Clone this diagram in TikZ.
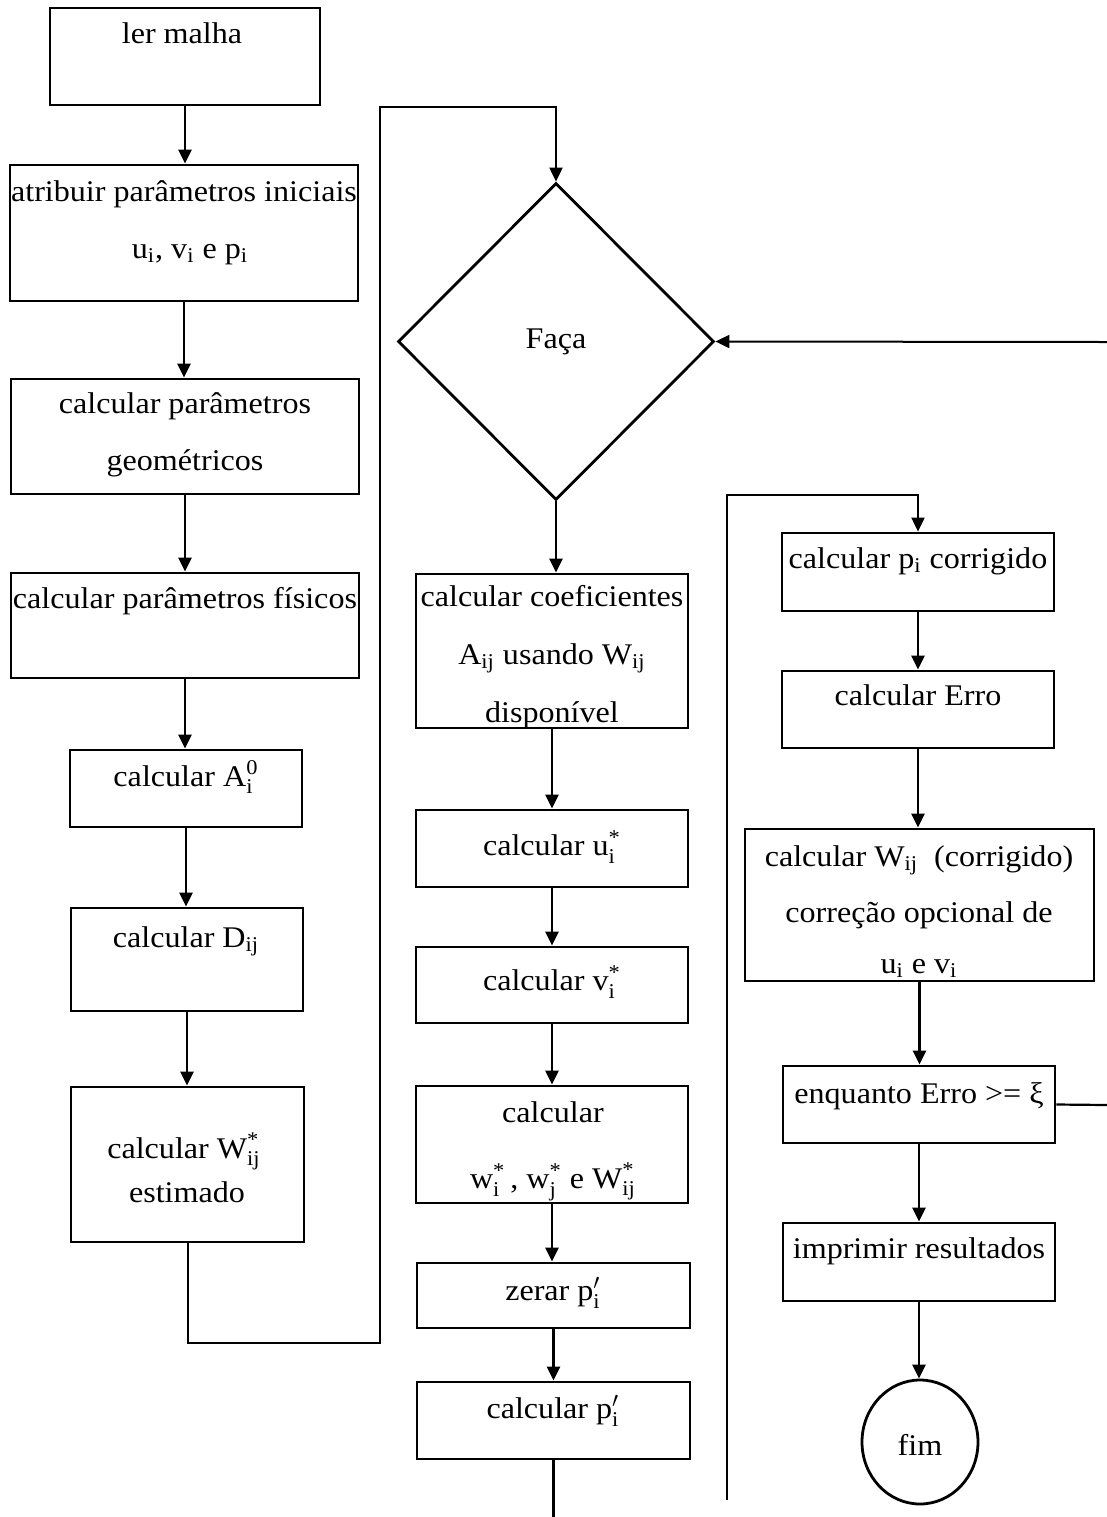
\documentclass[tikz,border=0pt]{standalone}
\usepackage{fontspec}
\usepackage{amsmath}
\setmainfont{Liberation Serif}[FakeStretch=1.07]
\usetikzlibrary{arrows.meta,shapes.geometric}
\newcommand\stk[3]{$\text{#1}^{\text{#2}}_{\text{#3}}$}
\newcommand\sbx[1]{\textsubscript{#1}}
\begin{document}
\begin{tikzpicture}[x=0.5pt,y=-0.5pt,
  box/.style={draw, line width=1.4pt, inner sep=0pt},
  lbl/.style={anchor=base, inner sep=0pt, font=\fontsize{15pt}{18pt}\selectfont},
  conn/.style={line width=1.2pt, -{Triangle[length=7pt,width=6.5pt]}},
  plain/.style={line width=1.1pt},
  loopline/.style={line width=1pt}]
\useasboundingbox (0,0) rectangle (1107,1517);
\fill[white] (0,0) rectangle (1107,1517);
% left column
\node[box, minimum width=135pt, minimum height=48.5pt] (b1) at (185,56.5) {};
\node[box, minimum width=174pt, minimum height=68pt] (b2) at (184,233) {};
\node[box, minimum width=174pt, minimum height=57.5pt] (b3) at (185,436.5) {};
\node[box, minimum width=174pt, minimum height=52.5pt] (b4) at (185,625.5) {};
\node[box, minimum width=116pt, minimum height=38.5pt] (b5) at (186,788.5) {};
\node[box, minimum width=116pt, minimum height=51.5pt] (b6) at (187,959.5) {};
\node[box, minimum width=116.5pt, minimum height=77.5pt] (b7) at (187.5,1164.5) {};
% middle column
\node[draw, shape=diamond, line width=1.4pt, inner sep=0pt, minimum width=158pt, minimum height=158.5pt] (dia) at (556,341.5) {};
\node[box, minimum width=136pt, minimum height=77pt] (m1) at (552,651) {};
\node[box, minimum width=136pt, minimum height=38.5pt] (m2) at (552,848.5) {};
\node[box, minimum width=136pt, minimum height=38pt] (m3) at (552,985) {};
\node[box, minimum width=136pt, minimum height=58.5pt] (m4) at (552,1144.5) {};
\node[box, minimum width=136.5pt, minimum height=32.5pt] (m5) at (553.5,1295.5) {};
\node[box, minimum width=136.5pt, minimum height=38.5pt] (m6) at (553.5,1420.5) {};
% right column
\node[box, minimum width=136pt, minimum height=39pt] (r1) at (918,572) {};
\node[box, minimum width=136pt, minimum height=38.5pt] (r2) at (918,709.5) {};
\node[box, minimum width=174.5pt, minimum height=76pt] (r3) at (919.5,905) {};
\node[box, minimum width=136pt, minimum height=38.5pt] (r4) at (919,1104.5) {};
\node[box, minimum width=136pt, minimum height=39pt] (r5) at (919,1262) {};
\node[draw, ellipse, line width=1.4pt, inner sep=0pt, minimum width=58pt, minimum height=62pt] (fim) at (920,1442) {};
% texts
\node[lbl] (t1) at (182,43) {ler malha};
\node[lbl] (t2a) at (184,201) {atribuir parâmetros iniciais};
\node[lbl] (t2b) at (190,258) {u\sbx{i}, v\sbx{i} e p\sbx{i}};
\node[lbl] (t3a) at (185,413) {calcular parâmetros};
\node[lbl] (t3b) at (185,470) {geométricos};
\node[lbl] (t4) at (185,608) {calcular parâmetros físicos};
\node[lbl] (t5) at (186,786) {calcular \stk{A}{0}{i}};
\node[lbl] (t6) at (186,947) {calcular D\sbx{ij}};
\node[lbl] (t7a) at (184,1158) {calcular \stk{W}{*}{ij}};
\node[lbl] (t7b) at (187,1202) {estimado};
\node[lbl] (tf) at (556,348) {Faça};
\node[lbl] (u1a) at (552,606) {calcular coeficientes};
\node[lbl] (u1b) at (552,664) {A\sbx{ij} usando W\sbx{ij}};
\node[lbl] (u1c) at (552,722) {disponível};
\node[lbl] (u2) at (552,855) {calcular \stk{u}{*}{i}};
\node[lbl] (u3) at (552,990) {calcular \stk{v}{*}{i}};
\node[lbl] (u4a) at (553,1122) {calcular};
\node[lbl] (u4b) at (553,1188) {\stk{w}{*}{i}\,, \stk{w}{*}{j} e \stk{W}{*}{ij}};
\node[lbl] (u5) at (553,1300) {zerar $\text{p}'_{\text{i}}$};
\node[lbl] (u6) at (553,1418) {calcular $\text{p}'_{\text{i}}$};
\node[lbl] (v1) at (918,568) {calcular p\sbx{i} corrigido};
\node[lbl] (v2) at (918,705) {calcular Erro};
\node[lbl] (v3a) at (919,866) {calcular W\sbx{ij}\ \ (corrigido)};
\node[lbl] (v3b) at (919,922) {correção opcional de};
\node[lbl] (v3c) at (919,973) {u\sbx{i} e v\sbx{i}};
\node[lbl] (v4) at (919,1103) {enquanto Erro >= ξ};
\node[lbl] (v5) at (919,1258) {imprimir resultados};
\node[lbl] (v6) at (920,1455) {fim};
% helper coordinates
\coordinate (c1) at (380,1343);
\coordinate (c2) at (380,107);
\coordinate (c3) at (555,1517);
\coordinate (c4) at (727,1500);
\coordinate (c5) at (727,495);
\coordinate (c6) at (1107,1105);
\coordinate (c7) at (1107,342);
% connectors left
\draw[conn] (b1.south) -- (b1.south |- b2.north);
\draw[conn] (b2.south) -- (b2.south |- b3.north);
\draw[conn] (b3.south) -- (b3.south |- b4.north);
\draw[conn] (b4.south) -- (b4.south |- b5.north);
\draw[conn] (b5.south) -- (b5.south |- b6.north);
\draw[conn] (b6.south) -- (b6.south |- b7.north);
\draw[loopline, -{Triangle[length=7pt,width=6.5pt]}] (b7.south) |- (c1) -- (c2) -| (dia.north);
% middle
\draw[conn] (dia.south) -- (dia.south |- m1.north);
\draw[conn] (m1.south) -- (m1.south |- m2.north);
\draw[conn] (m2.south) -- (m2.south |- m3.north);
\draw[conn] (m3.south) -- (m3.south |- m4.north);
\draw[conn] (m4.south) -- (m4.south |- m5.north);
\draw[conn] (m5.south) -- (m5.south |- m6.north);
\draw[plain] (m6.south) -- (m6.south |- c3);
% right
\draw[loopline, -{Triangle[length=7pt,width=6.5pt]}] (c4) -- (c5) -| (r1.north);
\draw[conn] (r1.south) -- (r1.south |- r2.north);
\draw[conn] (r2.south) -- (r2.south |- r3.north);
\draw[conn] (r3.south) -- (r3.south |- r4.north);
\draw[conn] (r4.south) -- (r4.south |- r5.north);
\draw[conn] (r5.south) -- (r5.south |- fim.north);
\draw[plain] (r4.east) -- (c6);
\draw[loopline, -{Triangle[length=7pt,width=6.5pt]}] (c7) -- (dia.east);
\end{tikzpicture}
\end{document}
